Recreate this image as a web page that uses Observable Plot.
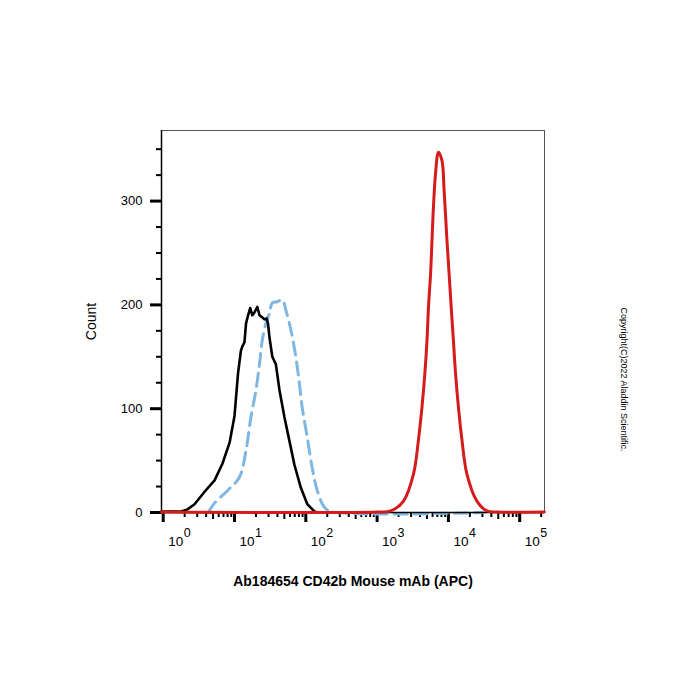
<!DOCTYPE html>
<html>
<head>
<meta charset="utf-8">
<script src="https://cdn.jsdelivr.net/npm/d3@7"></script>
<script src="https://cdn.jsdelivr.net/npm/@observablehq/plot@0.6"></script>
<style>
  html, body { margin: 0; padding: 0; background: #fff; }
</style>
</head>
<body>
<div id="chart"></div>
<script>
// ---- Data ----
const blackX = [0.95, 1.78, 2.19, 2.75, 3.80, 5.25, 6.76, 8.51, 10.0, 11.2, 12.3, 12.9, 13.8, 14.5, 15.5, 16.6, 17.8, 19.1, 20.9, 22.4, 24.5, 26.3, 28.2, 29.5, 30.9, 33.9, 38.0, 42.7, 50.1, 58.9, 69.2, 85.1, 105, 132, 150];
const blackY = [1, 1, 3, 8, 20, 31, 47, 67, 93, 134, 156, 160, 164, 182, 190, 197, 190, 193, 198, 190, 188, 186, 187, 182, 169, 150, 143, 118, 92, 69, 46, 24, 8, 1, 0];

const blueX = [4.27, 5.25, 7.94, 11.7, 14.5, 17.0, 20.0, 22.4, 24.5, 27.5, 30.9, 33.9, 39.8, 46.8, 52.5, 61.7, 72.4, 81.3, 89.1, 105, 123, 145, 182, 224, 30000];
const blueY = [0, 9, 21, 34, 60, 92, 118, 143, 166, 182, 192, 202, 203, 205, 195, 176, 150, 124, 101, 72, 43, 21, 5, 1, 0];

const redX = [0.95, 1000, 1549, 2344, 3236, 3802, 4266, 4677, 5012, 5248, 5623, 5888, 6166, 6607, 7244, 8128, 8710, 9550, 10233, 10965, 11749, 12589, 13804, 15488, 18197, 25119, 34674, 50000, 222000];
const redY = [0.5, 0.5, 1.5, 11, 37, 70, 102, 134, 166, 197, 230, 262, 294, 327, 347, 339, 310, 262, 230, 197, 166, 134, 102, 70, 37, 11, 1.5, 0.5, 0.5];

const xMajorTicks = [1, 10, 100, 1000, 10000, 100000];
const xExponents = ["0", "1", "2", "3", "4", "5"];
const xMinorTicks = [2,3,4,6,7,8,9,20,30,40,60,70,80,90,200,300,400,600,700,800,900,2000,3000,4000,6000,7000,8000,9000,20000,30000,40000,60000,70000,80000,90000,200000];
const xMidTicks = [5, 50, 500, 5000, 50000];
const yMajorTicks = [0, 100, 200, 300];
const yMinorTicks = [25, 50, 75, 125, 150, 175, 225, 250, 275, 325, 350];

const xTitle = "Ab184654 CD42b Mouse mAb (APC)";
const yTitle = "Count";
const copyright = "Copyright(C)2022 Aladdin Scientific.";

const toRows = (xs, ys) => xs.map((x, i) => ({x, y: ys[i]}));
const black = toRows(blackX, blackY);
const blue = toRows(blueX, blueY);
const red = toRows(redX, redY);

const font = "'Liberation Sans', Arial, Helvetica, sans-serif";

const chart = Plot.plot({
  width: 700,
  height: 700,
  marginTop: 130,
  marginBottom: 188,
  marginLeft: 161,
  marginRight: 156,
  style: {fontFamily: font, fontSize: "13px", background: "#fff", color: "#000"},
  x: {type: "log", domain: [0.946, 222800]},
  y: {domain: [0, 368]},
  marks: [
    Plot.frame({stroke: "#555", strokeWidth: 1}),
    Plot.ruleX([0.946], {stroke: "#000", strokeWidth: 1.5}),
    // y axis ticks
    Plot.axisY(yMajorTicks, {tickSize: 11, strokeWidth: 3, tickPadding: 8, label: null, fontSize: 13}),
    Plot.axisY(yMinorTicks, {tickSize: 5, strokeWidth: 2, tickFormat: () => "", label: null}),
    // x axis ticks
    Plot.axisX(xMajorTicks, {tickSize: 10, strokeWidth: 3, tickFormat: () => "", label: null}),
    Plot.axisX(xMidTicks, {tickSize: 7, strokeWidth: 2, tickFormat: () => "", label: null}),
    Plot.axisX(xMinorTicks, {tickSize: 5, strokeWidth: 2, tickFormat: () => "", label: null}),
    // x tick labels 10^n
    Plot.text(xMajorTicks, {x: d => d, frameAnchor: "bottom", text: () => "10", textAnchor: "start", dx: 5, dy: 29, lineAnchor: "middle", fontSize: 13.5}),
    Plot.text(xMajorTicks, {x: d => d, frameAnchor: "bottom", text: (d, i) => xExponents[i], textAnchor: "start", dx: 20.5, dy: 20, lineAnchor: "middle", fontSize: 12.5}),
    // curves
    Plot.line(blue, {x: "x", y: "y", stroke: "#7fb7e2", strokeWidth: 3, strokeDasharray: "13,7", curve: "catmull-rom"}),
    Plot.line(black, {x: "x", y: "y", stroke: "#000", strokeWidth: 2.6, curve: "linear"}),
    Plot.ruleY([0], {stroke: "#000", strokeWidth: 1.5}),
    Plot.line(red, {x: "x", y: "y", stroke: "#d41c1c", strokeWidth: 3, curve: "catmull-rom"}),
    // titles
    Plot.text([xTitle], {frameAnchor: "bottom", dy: 69, fontWeight: "bold", fontSize: 14, lineAnchor: "middle", textAnchor: "middle"}),
    Plot.text([yTitle], {frameAnchor: "left", dx: -70, rotate: -90, fontSize: 14, lineAnchor: "middle", textAnchor: "middle"}),
    Plot.text([copyright], {frameAnchor: "right", dx: 79, dy: 58, rotate: 90, fontSize: 9, lineAnchor: "middle", textAnchor: "middle"})
  ]
});
document.getElementById("chart").appendChild(chart);
</script>
</body>
</html>
